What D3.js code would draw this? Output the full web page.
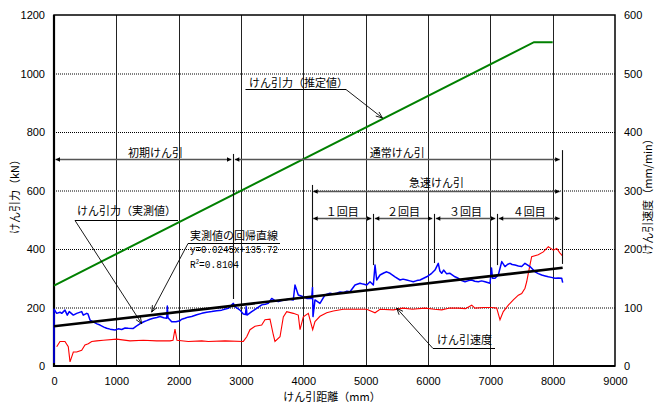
<!DOCTYPE html>
<html>
<head>
<meta charset="utf-8">
<script src="https://cdn.jsdelivr.net/npm/d3@7"></script>
<style>
  body { margin: 0; background: #fff; }
  svg { display: block; }
  .num { font-family: "Liberation Sans Narrow", "Liberation Sans", Arial, sans-serif; font-size: 11px; fill: #000; }
  .jp { font-family: "Noto Sans CJK JP", sans-serif; font-size: 11px; fill: #000; }
  .mono { font-family: "Liberation Mono", "DejaVu Sans Mono", monospace; font-size: 11px; fill: #000; }
</style>
</head>
<body>
<svg id="chart" width="656" height="406"></svg>
<script>
// ---- data -----------------------------------------------------------
const distTicks  = [0, 1000, 2000, 3000, 4000, 5000, 6000, 7000, 8000, 9000];
const forceTicks = [0, 200, 400, 600, 800, 1000, 1200];
const speedTicks = [0, 100, 200, 300, 400, 500, 600];

// estimated pulling force (kN)
const estDist  = [0, 7700, 8000];
const estForce = [275, 1107, 1107];

// regression of the measured force: y = a x + b
const regSlope = 0.0245;
const regIntercept = 135.72;
const regR2 = 0.8104;
const regRange = [0, 8160];

// measured pulling force (kN) against pulling distance (mm)
const measDist = [
  0, 0, 43, 96, 124, 176, 213, 245, 310, 364, 444, 470, 525, 545, 578, 630, 690, 738, 800, 845,
  900, 979, 1030, 1086, 1140, 1192, 1267, 1327, 1407, 1450, 1487, 1540, 1593, 1650, 1701, 1760, 1808, 1818, 1829, 1888,
  1957, 2021, 2049, 2100, 2150, 2209, 2290, 2370, 2450, 2530, 2610, 2690, 2750, 2796, 2877, 2904, 2984, 3037, 3072, 3084,
  3096, 3172, 3252, 3332, 3390, 3438, 3493, 3550, 3598, 3650, 3706, 3770, 3839, 3866, 3919, 4000, 4054, 4134, 4147, 4155,
  4187, 4267, 4348, 4428, 4480, 4535, 4590, 4641, 4700, 4749, 4829, 4909, 4960, 5017, 5070, 5123, 5150, 5177, 5230, 5290,
  5337, 5391, 5471, 5551, 5600, 5658, 5710, 5764, 5820, 5872, 5930, 5979, 6059, 6112, 6165, 6190, 6220, 6250, 6273, 6300,
  6353, 6433, 6486, 6540, 6594, 6650, 6701, 6750, 6807, 6860, 6915, 6995, 7019, 7035, 7075, 7128, 7183, 7235, 7280, 7316,
  7350, 7396, 7450, 7503, 7556, 7600, 7636, 7717, 7770, 7824, 7880, 7930, 7980, 8037, 8090, 8145, 8161
];
const measForce = [
  10, 194, 180, 184, 180, 191, 174, 186, 174, 180, 186, 174, 180, 178, 157, 151, 144, 140, 133, 129,
  126, 123, 127, 125, 130, 129, 128, 137, 148, 152, 155, 160, 163, 166, 169, 165, 163, 205, 165, 151,
  151, 155, 160, 163, 167, 169, 175, 180, 184, 186, 189, 191, 195, 197, 214, 203, 191, 178, 176, 203,
  174, 186, 197, 209, 211, 214, 231, 223, 220, 224, 226, 229, 226, 277, 243, 237, 231, 231, 269, 169,
  226, 214, 243, 249, 246, 249, 253, 251, 256, 254, 277, 283, 280, 277, 288, 277, 345, 294, 311, 318,
  322, 317, 305, 294, 297, 294, 291, 288, 292, 294, 300, 305, 317, 328, 351, 325, 317, 328, 322, 315,
  317, 305, 300, 292, 288, 292, 294, 290, 288, 291, 288, 283, 335, 300, 300, 311, 357, 340, 348, 351,
  347, 345, 342, 340, 351, 345, 340, 322, 316, 311, 308, 305, 303, 300, 301, 300, 285
];

// pulling speed (mm/min) against pulling distance (mm)
const speedDist = [
  43, 96, 176, 229, 257, 310, 364, 444, 497, 550, 605, 685, 791, 1006, 1219, 1433, 1648, 1861, 1909, 1941,
  1973, 2155, 2370, 2476, 2743, 3037, 3092, 3144, 3225, 3332, 3385, 3465, 3519, 3545, 3626, 3679, 3733, 3839, 3919, 3947,
  4000, 4080, 4150, 4187, 4267, 4375, 4481, 4641, 4802, 5017, 5150, 5230, 5444, 5600, 5750, 5952, 6100, 6220, 6350, 6486,
  6600, 6701, 6754, 6900, 7022, 7102, 7155, 7208, 7289, 7369, 7449, 7503, 7556, 7583, 7636, 7663, 7769, 7850, 7930, 8011,
  8065, 8118, 8161
];
const speedVal = [
  33, 42, 42, 33, 7, 24, 24, 27, 36, 38, 42, 43, 44, 46, 43, 44, 43, 43, 44, 63,
  44, 42, 43, 42, 43, 42, 50, 62, 68, 70, 79, 80, 53, 42, 50, 84, 93, 90, 87, 62,
  84, 90, 62, 76, 85, 91, 94, 97, 97, 97, 91, 97, 96, 99, 97, 99, 97, 96, 99, 99,
  98, 104, 99, 100, 100, 99, 79, 93, 104, 113, 121, 124, 133, 144, 173, 187, 190, 195, 204, 198,
  201, 193, 188
];

// pulling phases (distance range, mm) and the force level (kN) of each dimension arrow
const phaseNames = ["初期けん引", "通常けん引", "急速けん引", "１回目", "２回目", "３回目", "４回目"];
const phaseStart = [0, 2877, 4134, 4134, 5123, 6101, 7111];
const phaseEnd   = [2877, 8145, 8145, 5123, 6101, 7111, 8145];
const phaseLevel = [708, 708, 600, 507, 507, 507, 507];

// phase boundary markers: distance (mm), from / to force (kN)
const markDist = [2877, 4134, 5123, 6101, 7111, 8145];
const markLow  = [229, 270, 345, 352, 345, 349];
const markHigh = [725, 619, 520, 520, 520, 738];

// ---- scales ----------------------------------------------------------
const svg = d3.select("#chart");
const x  = d3.scaleLinear().domain([0, 9000]).range([54, 615]);
const yF = d3.scaleLinear().domain([0, 1200]).range([366, 15]);
const yS = d3.scaleLinear().domain([0, 600]).range([366, 15]);

// ---- grid ------------------------------------------------------------
const grid = svg.append("g");
grid.selectAll("line.h").data(forceTicks.filter(v => v > 0 && v < 1200)).join("line")
  .attr("x1", x(0)).attr("x2", x(9000))
  .attr("y1", d => yF(d) + 0.5).attr("y2", d => yF(d) + 0.5)
  .attr("stroke", "#000").attr("stroke-width", 1).attr("stroke-dasharray", "1,1");
grid.selectAll("line.v").data(distTicks.filter(v => v > 0 && v < 9000)).join("line")
  .attr("x1", d => Math.round(x(d)) + 0.5).attr("x2", d => Math.round(x(d)) + 0.5)
  .attr("y1", yF(1200)).attr("y2", yF(0))
  .attr("stroke", "#222").attr("stroke-width", 1);

// ---- axes --------------------------------------------------------------
const axL = svg.append("g").attr("class", "num").attr("transform", `translate(${x(0)},0)`)
  .call(d3.axisLeft(yF).tickValues(forceTicks).tickSize(0).tickPadding(9).tickFormat(d3.format("d")));
const axR = svg.append("g").attr("class", "num").attr("transform", `translate(${x(9000)},0)`)
  .call(d3.axisRight(yS).tickValues(speedTicks).tickSize(0).tickPadding(9).tickFormat(d3.format("d")));
const axB = svg.append("g").attr("class", "num").attr("transform", `translate(0,${yF(0)})`)
  .call(d3.axisBottom(x).tickValues(distTicks).tickSize(0).tickPadding(11).tickFormat(d3.format("d")));
[axL, axR, axB].forEach(g => {
  g.select(".domain").remove();
  g.selectAll("text").attr("class", "num").attr("font-size", null).attr("font-family", null);
});

// plot frame
svg.append("rect").attr("x", x(0)).attr("y", yF(1200)).attr("width", x(9000) - x(0)).attr("height", yF(0) - yF(1200))
  .attr("fill", "none").attr("stroke", "#000").attr("stroke-width", 1.5);
svg.append("path").attr("d", `M${x(0)},${yF(1200)}V${yF(0)}H${x(9000)}`)
  .attr("fill", "none").attr("stroke", "#000").attr("stroke-width", 2.2);

// axis titles
svg.append("text").attr("class", "jp").attr("text-anchor", "middle")
  .attr("transform", "translate(15,194) rotate(-90)").attr("dy", "0.38em").text("けん引力（kN）");
svg.append("text").attr("class", "jp").attr("text-anchor", "middle")
  .attr("transform", "translate(648,194) rotate(-90)").attr("dy", "0.38em").text("けん引速度（mm/min）");
svg.append("text").attr("class", "jp").attr("text-anchor", "middle")
  .attr("x", 332).attr("y", 401).text("けん引距離（mm）");

// ---- series ------------------------------------------------------------
const lineF = d3.line().x(d => x(d[0])).y(d => yF(d[1]));
const lineS = d3.line().x(d => x(d[0])).y(d => yS(d[1]));

svg.append("path").datum(speedDist.map((d, i) => [d, speedVal[i]]))
  .attr("d", lineS).attr("fill", "none").attr("stroke", "#ff0000").attr("stroke-width", 1.1);

svg.append("path").datum(measDist.map((d, i) => [d, measForce[i]]))
  .attr("d", lineF).attr("fill", "none").attr("stroke", "#0000ff").attr("stroke-width", 1.5)
  .attr("stroke-linejoin", "round");

svg.append("path").datum(estDist.map((d, i) => [d, estForce[i]]))
  .attr("d", lineF).attr("fill", "none").attr("stroke", "#008000").attr("stroke-width", 2);

svg.append("path").datum(regRange.map(d => [d, regSlope * d + regIntercept]))
  .attr("d", lineF).attr("fill", "none").attr("stroke", "#000").attr("stroke-width", 2.6);

// ---- phase dimension arrows ---------------------------------------------
const defs = svg.append("defs");
defs.append("marker").attr("id", "ah").attr("viewBox", "0 0 10 10")
  .attr("refX", 10).attr("refY", 5).attr("markerWidth", 5).attr("markerHeight", 4.5)
  .attr("markerUnits", "userSpaceOnUse").attr("orient", "auto-start-reverse")
  .append("path").attr("d", "M0,0L10,5L0,10z").attr("fill", "#000");

const ann = svg.append("g");
markDist.forEach((d, i) => {
  ann.append("line")
    .attr("x1", Math.round(x(d)) + 0.5).attr("x2", Math.round(x(d)) + 0.5)
    .attr("y1", yF(markHigh[i])).attr("y2", yF(markLow[i]))
    .attr("stroke", "#111").attr("stroke-width", 1.1);
});
phaseNames.forEach((name, i) => {
  const x1 = x(phaseStart[i]) + 1.5, x2 = x(phaseEnd[i]) - 2;
  const y = Math.round(yF(phaseLevel[i])) + 0.5;
  ann.append("line").attr("x1", x1).attr("x2", x2).attr("y1", y).attr("y2", y)
    .attr("stroke", "#555").attr("stroke-width", 1.5)
    .attr("marker-start", "url(#ah)").attr("marker-end", "url(#ah)");
  const shift = i === 0 ? 12 : 0;
  ann.append("text").attr("class", "jp").attr("text-anchor", "middle")
    .attr("x", (x1 + x2) / 2 + shift).attr("y", y - (i === 2 ? 5 : 3)).text(name);
});

// ---- labels with leader lines -------------------------------------------
function leader(x1, y1, x2, y2) {
  const a = Math.atan2(y2 - y1, x2 - x1), L = 7, s = 0.38;
  ann.append("path")
    .attr("d", `M${x1},${y1}L${x2},${y2}M${x2 - L * Math.cos(a - s)},${y2 - L * Math.sin(a - s)}L${x2},${y2}L${x2 - L * Math.cos(a + s)},${y2 - L * Math.sin(a + s)}`)
    .attr("fill", "none").attr("stroke", "#000").attr("stroke-width", 0.9);
}
function underline(x1, x2, y) {
  ann.append("line").attr("x1", x1).attr("x2", x2).attr("y1", y).attr("y2", y)
    .attr("stroke", "#000").attr("stroke-width", 1);
}
const estAt = d => d3.scaleLinear().domain(estDist.slice(0, 2)).range(estForce.slice(0, 2))(d);
const speedAt = d => d3.scaleLinear().domain(speedDist).range(speedVal)(d);

// estimated force label
ann.append("text").attr("class", "jp").attr("x", 249).attr("y", 86.5).text("けん引力（推定値）");
underline(245.5, 346, 89.5);
leader(346, 89.5, x(5270), yF(estAt(5270)) - 1);

// measured force label
ann.append("text").attr("class", "jp").attr("x", 77).attr("y", 215).text("けん引力（実測値）");
underline(75, 178, 220.5);
leader(75, 220.5, x(1407), yF(148) + 1);

// regression label
ann.append("text").attr("class", "jp").attr("x", 190).attr("y", 239.5).text("実測値の回帰直線");
underline(188, 280, 243.5);
leader(188, 243.5, x(1567), yF(regSlope * 1567 + regIntercept) - 3);
ann.append("text").attr("class", "mono").attr("x", 190).attr("y", 252.5)
  .attr("textLength", 88).attr("lengthAdjust", "spacingAndGlyphs")
  .text(`y=${regSlope}x+${regIntercept}`);
const r2 = ann.append("text").attr("class", "mono").attr("x", 190).attr("y", 268)
  .attr("textLength", 49).attr("lengthAdjust", "spacingAndGlyphs");
r2.append("tspan").text("R");
r2.append("tspan").attr("font-size", "6.5px").attr("dy", -4.5).text("2");
r2.append("tspan").attr("dy", 4.5).text(`=${regR2}`);

// speed label
ann.append("text").attr("class", "jp").attr("x", 437).attr("y", 344).text("けん引速度");
underline(433, 495, 348.5);
leader(433, 348.5, x(5498), yS(speedAt(5498)) - 1);
</script>
</body>
</html>
